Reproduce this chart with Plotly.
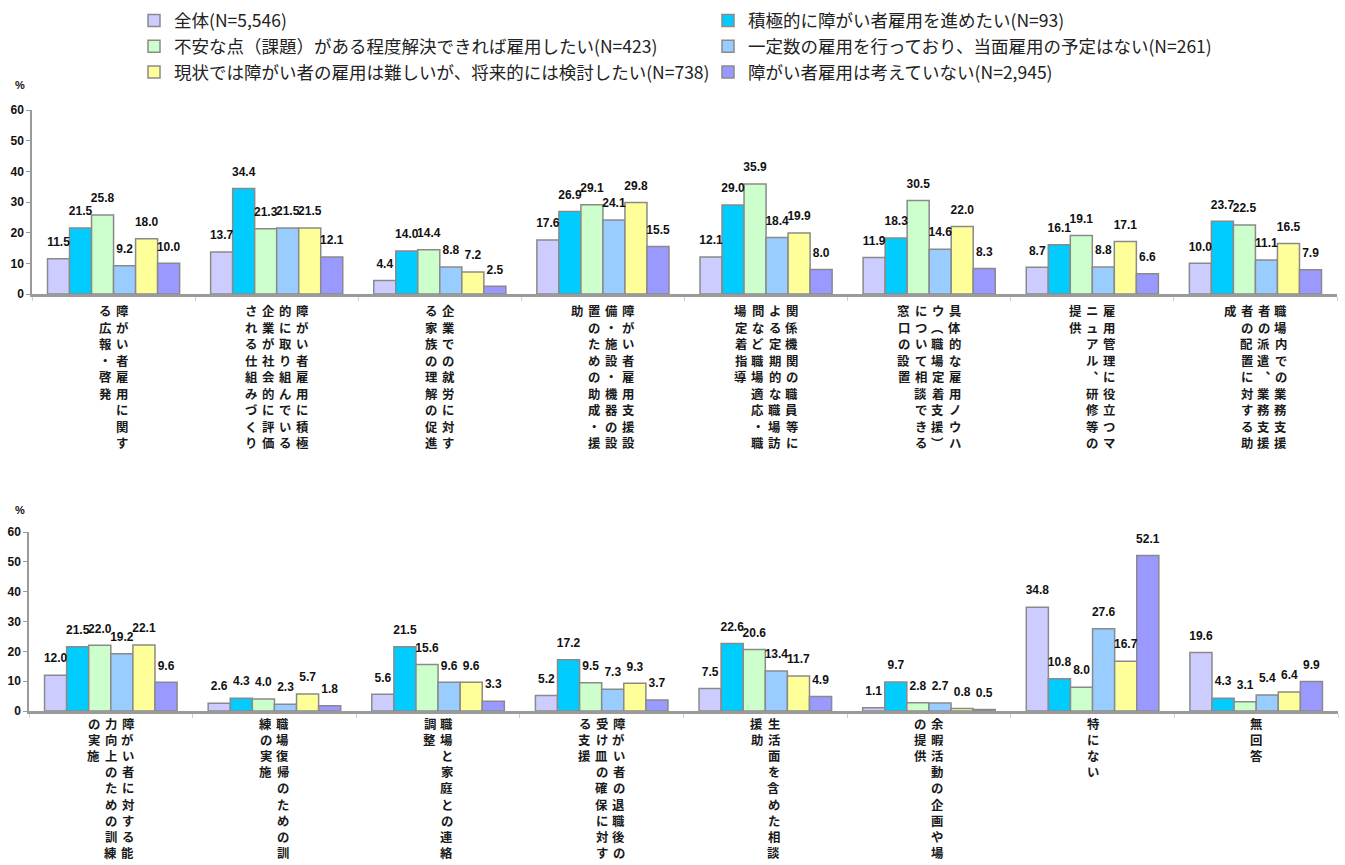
import plotly.graph_objects as go

# ---- data -------------------------------------------------------------
series_names = [
    "全体(N=5,546)",
    "積極的に障がい者雇用を進めたい(N=93)",
    "不安な点（課題）がある程度解決できれば雇用したい(N=423)",
    "一定数の雇用を行っており、当面雇用の予定はない(N=261)",
    "現状では障がい者の雇用は難しいが、将来的には検討したい(N=738)",
    "障がい者雇用は考えていない(N=2,945)",
]
series_colors = ["#CCCCFF", "#00CCFF", "#CCFFCC", "#99CCFF", "#FFFF99", "#9999FF"]
# legend column for each series (left column / right column)
series_legend = ["legend", "legend2", "legend", "legend2", "legend", "legend2"]

top_categories = [
    "障がい者雇用に関する広報・啓発",
    "障がい者雇用に積極的に取り組んでいる企業が社会的に評価される仕組みづくり",
    "企業での就労に対する家族の理解の促進",
    "障がい者雇用支援設備・施設・機器の設置のための助成・援助",
    "関係機関の職員等による定期的な職場訪問など職場適応・職場定着指導",
    "具体的な雇用ノウハウ（職場定着支援）について相談できる窓口の設置",
    "雇用管理に役立つマニュアル、研修等の提供",
    "職場内での業務支援者の派遣、業務支援者の配置に対する助成",
]
top_values = [
    [11.5, 13.7, 4.4, 17.6, 12.1, 11.9, 8.7, 10.0],
    [21.5, 34.4, 14.0, 26.9, 29.0, 18.3, 16.1, 23.7],
    [25.8, 21.3, 14.4, 29.1, 35.9, 30.5, 19.1, 22.5],
    [9.2, 21.5, 8.8, 24.1, 18.4, 14.6, 8.8, 11.1],
    [18.0, 21.5, 7.2, 29.8, 19.9, 22.0, 17.1, 16.5],
    [10.0, 12.1, 2.5, 15.5, 8.0, 8.3, 6.6, 7.9],
]

bottom_categories = [
    "障がい者に対する能力向上のための訓練の実施",
    "職場復帰のための訓練の実施",
    "職場と家庭との連絡調整",
    "障がい者の退職後の受け皿の確保に対する支援",
    "生活面を含めた相談援助",
    "余暇活動の企画や場の提供",
    "特にない",
    "無回答",
]
bottom_values = [
    [12.0, 2.6, 5.6, 5.2, 7.5, 1.1, 34.8, 19.6],
    [21.5, 4.3, 21.5, 17.2, 22.6, 9.7, 10.8, 4.3],
    [22.0, 4.0, 15.6, 9.5, 20.6, 2.8, 8.0, 3.1],
    [19.2, 2.3, 9.6, 7.3, 13.4, 2.7, 27.6, 5.4],
    [22.1, 5.7, 9.6, 9.3, 11.7, 0.8, 16.7, 6.4],
    [9.6, 1.8, 3.3, 3.7, 4.9, 0.5, 52.1, 9.9],
]

y_ticks = [0, 10, 20, 30, 40, 50, 60]

# ---- layout helpers ---------------------------------------------------
W, H = 1345, 865


def fx(p):
    return p / W


def fy(p):
    return 1 - p / H


NUM_FONT = "Liberation Sans Narrow, Arial Narrow, Liberation Sans, Arial, sans-serif"
JP_FONT = "Noto Sans CJK JP, Noto Sans CJK SC, sans-serif"
BAR_LINE = "#8a8a8a"

VERTICAL_FORMS = {"（": "︵", "）": "︶", "、": "︑", "ー": "︱"}

fig = go.Figure()

panels = [
    ("x", "y", top_categories, top_values),
    ("x2", "y2", bottom_categories, bottom_values),
]

for pi, (xa, ya, cats, values) in enumerate(panels):
    for si, (name, color) in enumerate(zip(series_names, series_colors)):
        fig.add_trace(go.Bar(
            x=cats, y=values[si], name=name,
            xaxis=xa, yaxis=ya,
            offsetgroup=str(si), alignmentgroup=f"p{pi}",
            marker=dict(color=color, line=dict(color=BAR_LINE, width=1.5)),
            showlegend=(pi == 0), legend=series_legend[si], legendgroup=name,
            hoverinfo="skip",
        ))
    # value labels above each bar
    for si, name in enumerate(series_names):
        fig.add_trace(go.Scatter(
            x=cats, y=values[si], mode="markers+text",
            xaxis=xa, yaxis=ya,
            offsetgroup=str(si), alignmentgroup=f"p{pi}",
            text=[f"{v:.1f}" for v in values[si]],
            textposition="top center",
            textfont=dict(family=NUM_FONT, size=12, color="#111111", weight="bold"),
            marker=dict(size=14, opacity=0),
            cliponaxis=False, showlegend=False, legendgroup=name,
            hoverinfo="skip",
        ))

# ---- vertical category labels (columns read right to left) ------------
# every character is placed on its own so rows keep a fixed pitch
annotations = []
COL_PITCH = 17
ROWS_PER_COL = 9
first_row_centers = [311, 724]
row_pitches = [16.5, 16.1]
for pi, (xa, ya, cats, values) in enumerate(panels):
    for ci, label in enumerate(cats):
        chars = [VERTICAL_FORMS.get(c, c) for c in label]
        cols = [chars[k:k + ROWS_PER_COL] for k in range(0, len(chars), ROWS_PER_COL)]
        n = len(cols)
        for j, col in enumerate(cols):
            for r, ch in enumerate(col):
                annotations.append(dict(
                    x=ci, xref=xa,
                    y=fy(first_row_centers[pi] + r * row_pitches[pi]), yref="paper",
                    xanchor="center", yanchor="middle",
                    xshift=((n - 1) / 2 - j) * COL_PITCH,
                    text=ch, showarrow=False, borderpad=0,
                    font=dict(family=JP_FONT, size=12.4, color="#1a1a1a", weight="bold"),
                ))

# "%" unit labels
for py in (85, 510):
    annotations.append(dict(
        x=fx(20), y=fy(py), xref="paper", yref="paper",
        xanchor="center", yanchor="middle", text="%", showarrow=False,
        font=dict(family=NUM_FONT, size=11, color="#111111", weight="bold"),
    ))

axis_common_x = dict(
    type="category", showline=True, linecolor="#9a9a9a", linewidth=2.5,
    showticklabels=False, ticks="outside", tickson="boundaries", ticklen=4,
    tickcolor="#d0d0d0", showgrid=False, zeroline=False, fixedrange=True,
)
axis_common_y = dict(
    range=[0, 60], tickvals=y_ticks, showline=True, linecolor="#9a9a9a",
    linewidth=1.5, ticks="outside", ticklen=4, tickcolor="#9a9a9a",
    showgrid=False, zeroline=False, fixedrange=True,
    tickfont=dict(family=NUM_FONT, size=12, color="#111111", weight="bold"),
)

legend_common = dict(
    orientation="v", y=1 - 2.5 / H, xanchor="left", yanchor="top",
    traceorder="normal", tracegroupgap=1.5,
    font=dict(family=JP_FONT, size=17.5, color="#222222"),
    bgcolor="rgba(0,0,0,0)",
)

fig.update_layout(
    width=W, height=H, autosize=False,
    margin=dict(l=0, r=0, t=0, b=0, autoexpand=False),
    paper_bgcolor="white", plot_bgcolor="white",
    barmode="group", bargap=0.19, bargroupgap=0,
    scattermode="group", scattergap=0.19,
    xaxis=dict(domain=[fx(32), fx(1337)], anchor="y", **axis_common_x),
    yaxis=dict(domain=[fy(294), fy(110)], anchor="x", **axis_common_y),
    xaxis2=dict(domain=[fx(29), fx(1338)], anchor="y2", **axis_common_x),
    yaxis2=dict(domain=[fy(711), fy(532)], anchor="x2", **axis_common_y),
    annotations=annotations,
    legend=dict(x=fx(134), **legend_common),
    legend2=dict(x=fx(708), **legend_common),
    showlegend=True,
)

fig.write_html("out.html")
